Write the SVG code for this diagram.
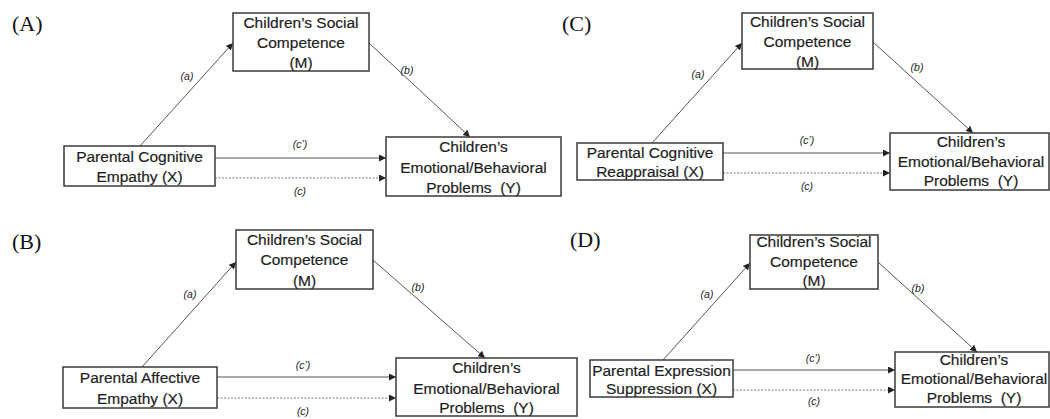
<svg xmlns="http://www.w3.org/2000/svg" width="1050" height="419" viewBox="0 0 1050 419">
<style>
.box{fill:#fff;stroke:#3a3a3a;stroke-width:1.5}
.t{font-family:"Liberation Sans",Arial,sans-serif;font-size:15.5px;fill:#1e1e1e;text-anchor:middle;stroke:#1e1e1e;stroke-width:0.2}
.pl{font-family:"Liberation Serif","Times New Roman",serif;font-size:22px;fill:#111}
.lb{font-family:"Liberation Sans",Arial,sans-serif;font-size:10.5px;font-style:italic;fill:#222;text-anchor:middle}
.ln{stroke:#555;stroke-width:1;fill:none;marker-end:url(#ah)}
.dash{stroke:#777;stroke-width:1;fill:none;stroke-dasharray:2 1.5;marker-end:url(#ah)}
</style>
<defs>
<marker id="ah" markerWidth="7" markerHeight="7" refX="7" refY="3.5" orient="auto" markerUnits="userSpaceOnUse">
<path d="M0,0 L7,3.5 L0,7 z" fill="#222"/>
</marker>
</defs>
<rect width="1050" height="419" fill="#fff"/>

<!-- Panel labels -->
<text class="pl" x="12" y="31">(A)</text>
<text class="pl" x="562" y="31">(C)</text>
<text class="pl" x="12" y="249">(B)</text>
<text class="pl" x="570" y="247">(D)</text>

<!-- Connectors -->
<g id="connectors">
  <!-- A -->
  <line class="ln" x1="140" y1="146" x2="233" y2="43"/>
  <line class="ln" x1="369" y1="43" x2="470" y2="137"/>
  <line class="ln" x1="215" y1="158" x2="386" y2="158"/>
  <line class="dash" x1="215" y1="178" x2="386" y2="178"/>
  <text class="lb" x="187" y="80">(a)</text>
  <text class="lb" x="407" y="74">(b)</text>
  <text class="lb" x="300" y="148">(c’)</text>
  <text class="lb" x="300" y="195">(c)</text>
  <!-- C -->
  <line class="ln" x1="652" y1="143" x2="742" y2="43"/>
  <line class="ln" x1="873" y1="42" x2="973" y2="133"/>
  <line class="ln" x1="723" y1="153" x2="890" y2="153"/>
  <line class="dash" x1="723" y1="173" x2="890" y2="173"/>
  <text class="lb" x="698" y="78">(a)</text>
  <text class="lb" x="917" y="71">(b)</text>
  <text class="lb" x="807" y="144">(c’)</text>
  <text class="lb" x="807" y="190">(c)</text>
  <!-- B -->
  <line class="ln" x1="142" y1="367" x2="236" y2="262"/>
  <line class="ln" x1="373" y1="260" x2="485" y2="358"/>
  <line class="ln" x1="217" y1="377" x2="396" y2="377"/>
  <line class="dash" x1="217" y1="398" x2="396" y2="398"/>
  <text class="lb" x="190" y="298">(a)</text>
  <text class="lb" x="418" y="291">(b)</text>
  <text class="lb" x="303" y="369">(c’)</text>
  <text class="lb" x="303" y="415">(c)</text>
  <!-- D -->
  <line class="ln" x1="663" y1="360" x2="750" y2="263"/>
  <line class="ln" x1="878" y1="262" x2="977" y2="352"/>
  <line class="ln" x1="733" y1="370" x2="895" y2="370"/>
  <line class="dash" x1="733" y1="390" x2="895" y2="390"/>
  <text class="lb" x="707" y="298">(a)</text>
  <text class="lb" x="918" y="292">(b)</text>
  <text class="lb" x="813" y="362">(c’)</text>
  <text class="lb" x="814" y="405">(c)</text>
</g>

<!-- Panel A nodes -->
<g id="A-M">
  <rect class="box" x="233" y="13" width="136" height="58"/>
  <text class="t" x="301" y="28">Children’s Social</text>
  <text class="t" x="301" y="48">Competence</text>
  <text class="t" x="301" y="68">(M)</text>
</g>
<g id="A-X">
  <rect class="box" x="64" y="146" width="151" height="40"/>
  <text class="t" x="139.5" y="162">Parental Cognitive</text>
  <text class="t" x="139.5" y="182">Empathy (X)</text>
</g>
<g id="A-Y">
  <rect class="box" x="386" y="137" width="175" height="59"/>
  <text class="t" x="473.5" y="152">Children’s</text>
  <text class="t" x="473.5" y="173">Emotional/Behavioral</text>
  <text class="t" x="473.5" y="193" xml:space="preserve">Problems  (Y)</text>
</g>

<!-- Panel C nodes -->
<g id="C-M">
  <rect class="box" x="742" y="13" width="131" height="56"/>
  <text class="t" x="807.5" y="27">Children’s Social</text>
  <text class="t" x="807.5" y="47">Competence</text>
  <text class="t" x="807.5" y="67">(M)</text>
</g>
<g id="C-X">
  <rect class="box" x="577" y="143" width="146" height="37"/>
  <text class="t" x="650" y="158">Parental Cognitive</text>
  <text class="t" x="650" y="177">Reappraisal (X)</text>
</g>
<g id="C-Y">
  <rect class="box" x="890" y="133" width="159" height="57"/>
  <text class="t" x="971" y="147">Children’s</text>
  <text class="t" x="971" y="167">Emotional/Behavioral</text>
  <text class="t" x="971" y="186" xml:space="preserve">Problems  (Y)</text>
</g>

<!-- Panel B nodes -->
<g id="B-M">
  <rect class="box" x="236" y="230" width="137" height="59"/>
  <text class="t" x="304.5" y="245">Children’s Social</text>
  <text class="t" x="304.5" y="265">Competence</text>
  <text class="t" x="304.5" y="286">(M)</text>
</g>
<g id="B-X">
  <rect class="box" x="63" y="367" width="154" height="41"/>
  <text class="t" x="140" y="383">Parental Affective</text>
  <text class="t" x="140" y="404">Empathy (X)</text>
</g>
<g id="B-Y">
  <rect class="box" x="396" y="358" width="181" height="58"/>
  <text class="t" x="486.5" y="373">Children’s</text>
  <text class="t" x="486.5" y="394">Emotional/Behavioral</text>
  <text class="t" x="486.5" y="413" xml:space="preserve">Problems  (Y)</text>
</g>

<!-- Panel D nodes -->
<g id="D-M">
  <rect class="box" x="750" y="235" width="128" height="54"/>
  <text class="t" x="814" y="247">Children’s Social</text>
  <text class="t" x="814" y="267">Competence</text>
  <text class="t" x="814" y="286">(M)</text>
</g>
<g id="D-X">
  <rect class="box" x="590" y="360" width="143" height="37"/>
  <text class="t" x="661.5" y="376">Parental Expression</text>
  <text class="t" x="661.5" y="394">Suppression (X)</text>
</g>
<g id="D-Y">
  <rect class="box" x="895" y="352" width="154" height="55"/>
  <text class="t" x="974" y="365">Children’s</text>
  <text class="t" x="974" y="384">Emotional/Behavioral</text>
  <text class="t" x="974" y="403" xml:space="preserve">Problems  (Y)</text>
</g>
</svg>
